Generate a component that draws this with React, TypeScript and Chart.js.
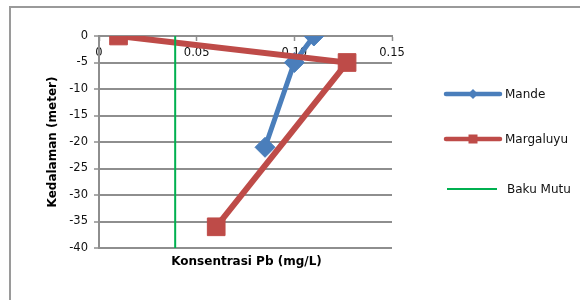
import React, { useEffect, useRef } from "react";
import { Chart, registerables } from "chart.js";

Chart.register(...registerables);

const seriesNames = ["Mande", "Margaluyu", "Baku Mutu"];
const mandeX = [0.11, 0.1, 0.085];
const mandeY = [0, -5, -21];
const margaluyuX = [0.01, 0.127, 0.06];
const margaluyuY = [0, -5, -36];
const bakuMutuX = [0.039, 0.039];
const bakuMutuY = [0, -40];
const xTicks = [0, 0.05, 0.1, 0.15];
const yTicks = [0, -5, -10, -15, -20, -25, -30, -35, -40];

const xTitle = "Konsentrasi Pb (mg/L)";
const yTitle = "Kedalaman (meter)";

const BLUE = "#4a7ebb";
const RED = "#be4b48";
const GREEN = "#00b050";
const GRID = "#8e8e8e";
const FRAME = "#9a9a9a";
const FONT = "'DejaVu Sans', Verdana, sans-serif";

const pts = (xs: number[], ys: number[]) => xs.map((x, i) => ({ x, y: ys[i] }));

const framePlugin = {
  id: "frame",
  beforeDraw(chart: any) {
    const ctx = chart.ctx;
    ctx.save();
    ctx.fillStyle = "#fff";
    ctx.fillRect(0, 0, chart.width, chart.height);
    ctx.strokeStyle = FRAME;
    ctx.lineWidth = 2;
    ctx.beginPath();
    ctx.moveTo(10, chart.height + 2);
    ctx.lineTo(10, 7);
    ctx.lineTo(chart.width + 2, 7);
    ctx.stroke();
    ctx.restore();
  },
};

const extrasPlugin = {
  id: "extras",
  afterDraw(chart: any) {
    const ctx = chart.ctx;
    const ca = chart.chartArea;
    ctx.save();
    // x axis title
    ctx.font = `bold 12px ${FONT}`;
    ctx.fillStyle = "#000";
    ctx.textAlign = "center";
    ctx.textBaseline = "middle";
    ctx.fillText(xTitle, (ca.left + ca.right) / 2 + 1, 262);

    // legend
    const legendY = [94, 139, 189];
    chart.data.datasets.forEach((ds: any, i: number) => {
      const y = legendY[i];
      const isBaku = i === 2;
      const x0 = isBaku ? 447 : 446;
      const x1 = isBaku ? 497 : 500;
      ctx.strokeStyle = ds.borderColor;
      ctx.lineWidth = isBaku ? 2 : 4.5;
      ctx.lineCap = isBaku ? "butt" : "round";
      ctx.beginPath();
      ctx.moveTo(x0, y);
      ctx.lineTo(x1, y);
      ctx.stroke();
      const cx = (x0 + x1) / 2;
      ctx.fillStyle = ds.borderColor;
      if (ds.pointStyle === "rectRot") {
        const r = 5;
        ctx.beginPath();
        ctx.moveTo(cx, y - r);
        ctx.lineTo(cx + r, y);
        ctx.lineTo(cx, y + r);
        ctx.lineTo(cx - r, y);
        ctx.closePath();
        ctx.fill();
      } else if (ds.pointStyle === "rect") {
        ctx.fillRect(cx - 4.5, y - 4.5, 9, 9);
      }
      ctx.font = `12px ${FONT}`;
      ctx.fillStyle = "#111";
      ctx.textAlign = "left";
      ctx.textBaseline = "middle";
      ctx.fillText(seriesNames[i], isBaku ? 507 : 505, y + 1);
    });
    ctx.restore();
  },
};

export default function App() {
  const ref = useRef<HTMLCanvasElement>(null);
  useEffect(() => {
    if (!ref.current) return;
    const chart = new Chart(ref.current, {
      type: "scatter",
      data: {
        datasets: [
          {
            label: seriesNames[0],
            data: pts(mandeX, mandeY),
            showLine: true,
            borderColor: BLUE,
            backgroundColor: BLUE,
            borderWidth: 5,
            pointStyle: "rectRot",
            pointRadius: 10,
            pointBorderWidth: 1,
            pointBorderColor: BLUE,
            pointBackgroundColor: BLUE,
            order: 2,
          },
          {
            label: seriesNames[1],
            data: pts(margaluyuX, margaluyuY),
            showLine: true,
            borderColor: RED,
            backgroundColor: RED,
            borderWidth: 6,
            pointStyle: "rect",
            pointRadius: 12.5,
            pointBorderWidth: 1,
            pointBorderColor: RED,
            pointBackgroundColor: RED,
            order: 1,
          },
          {
            label: seriesNames[2],
            data: pts(bakuMutuX, bakuMutuY),
            showLine: true,
            borderColor: GREEN,
            backgroundColor: GREEN,
            borderWidth: 2,
            pointRadius: 0,
            order: 0,
          },
        ] as any,
      },
      options: {
        animation: false,
        responsive: false,
        events: [],
        layout: { padding: { left: 20, top: 36, right: 188, bottom: 52 } },
        plugins: {
          legend: { display: false },
          tooltip: { enabled: false },
        },
        scales: {
          x: {
            type: "linear",
            position: { y: 0 } as any,
            min: xTicks[0],
            max: xTicks[xTicks.length - 1],
            afterBuildTicks: (s: any) => {
              s.ticks = xTicks.map((v) => ({ value: v }));
            },
            grid: {
              display: true,
              drawOnChartArea: false,
              drawTicks: true,
              tickLength: 4,
              tickColor: GRID,
              tickWidth: 1.5,
            },
            border: { display: true, color: GRID, width: 2 },
            ticks: {
              padding: 6,
              color: "#111",
              font: { family: FONT, size: 11.5 },
              maxRotation: 0,
              autoSkip: false,
            },
          },
          y: {
            type: "linear",
            position: "left",
            min: yTicks[yTicks.length - 1],
            max: yTicks[0],
            afterBuildTicks: (s: any) => {
              s.ticks = yTicks.map((v) => ({ value: v }));
            },
            afterFit: (s: any) => {
              s.width = 79;
            },
            grid: {
              color: GRID,
              lineWidth: 2,
              drawTicks: true,
              tickLength: 5,
              tickColor: GRID,
              tickWidth: 1.5,
            },
            border: { display: true, color: GRID, width: 2 },
            ticks: {
              padding: 6,
              color: "#111",
              font: { family: FONT, size: 11.5 },
              autoSkip: false,
            },
            title: {
              display: true,
              text: yTitle,
              color: "#000",
              font: { family: FONT, size: 12, weight: "bold" },
              padding: { top: 26, bottom: 0 },
            },
          },
        },
      },
      plugins: [framePlugin, extrasPlugin],
    });
    return () => chart.destroy();
  }, []);

  return (
    <div
      style={{
        position: "absolute",
        left: 0,
        top: 0,
        width: 580,
        height: 300,
        background: "#fff",
        overflow: "hidden",
      }}
    >
      <canvas
        ref={ref}
        width={580}
        height={300}
        style={{ position: "absolute", left: 0, top: 0, display: "block" }}
      />
    </div>
  );
}
